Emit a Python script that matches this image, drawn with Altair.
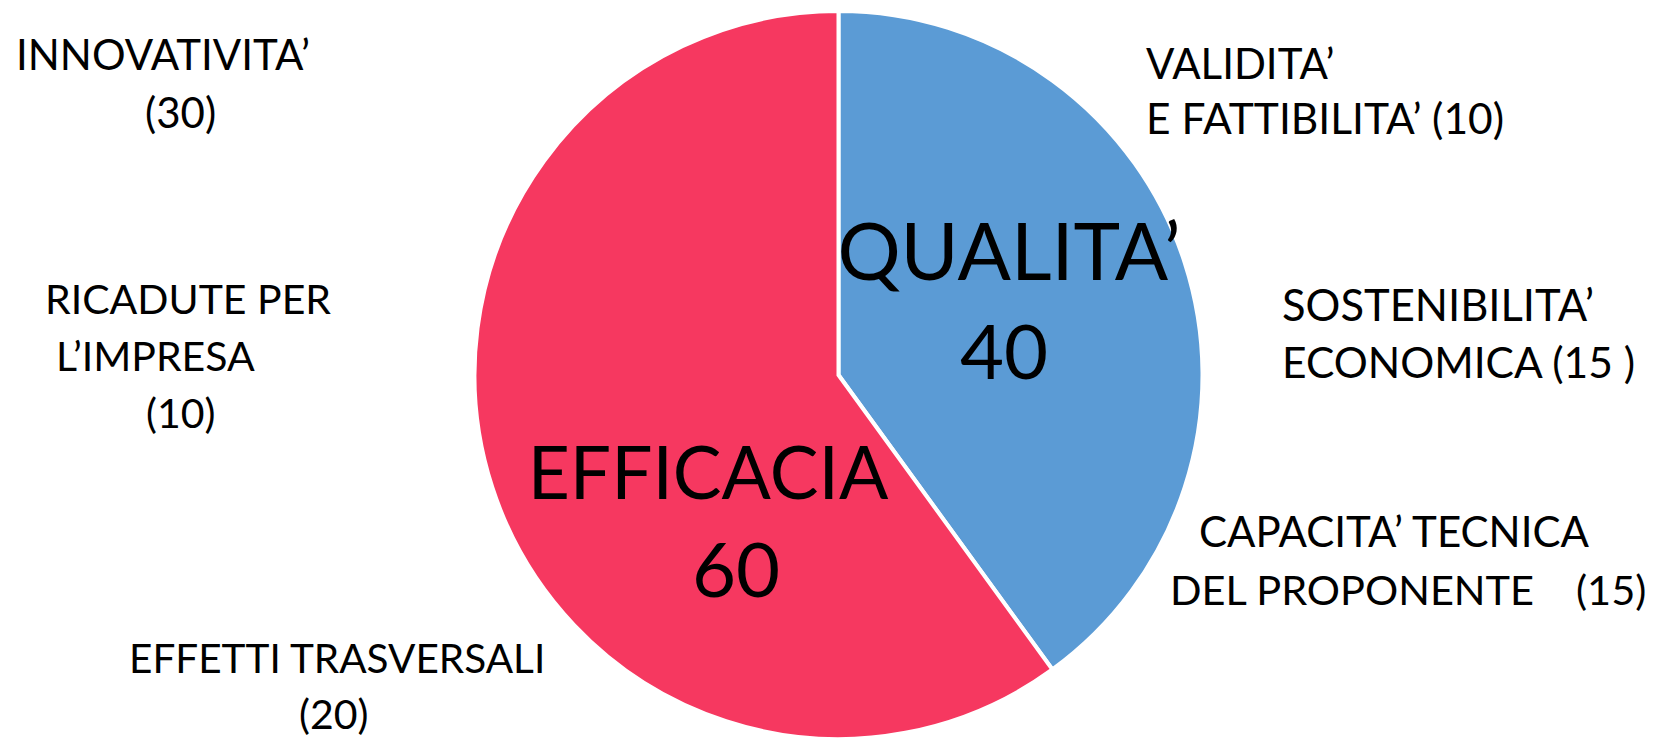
import altair as alt
import pandas as pd

# Pie data
categories = ["QUALITA’", "EFFICACIA"]
values = [40, 60]
colors = ["#5B9BD5", "#F63860"]

# Big slice labels (lines)
big_lines = ["QUALITA’", "40", "EFFICACIA", "60"]

# Outer criteria labels (one row per line)
small_lines = [
    "INNOVATIVITA’", "(30)",
    "RICADUTE PER", "L’IMPRESA", "(10)",
    "EFFETTI TRASVERSALI", "(20)",
    "VALIDITA’", "E FATTIBILITA’ (10)",
    "SOSTENIBILITA’", "ECONOMICA (15 )",
    "CAPACITA’ TECNICA", "DEL PROPONENTE\u2002\u00a0 (15)",
]

# --- layout (page pixels) ---
big_x = [1009, 1004, 708, 736]
big_y = [280, 379, 499, 597]
big_size = [79, 76, 73, 76]

small_x = [16, 145, 45, 56, 146, 129, 299, 1146, 1146, 1282, 1282, 1199, 1170]
small_y = [70, 128, 314, 371, 428, 673, 729, 79, 134, 321, 378, 547, 605]
small_size = [42, 42, 41, 41, 41, 40.5, 41, 42, 42.5, 43.5, 42.5, 42, 41.5]

W, H = 1641, 722
OFF = 8

pie_df = pd.DataFrame({"cat": categories, "val": values, "ord": [0, 1]})
big_df = pd.DataFrame({"t": big_lines, "x": [v - OFF for v in big_x],
                       "y": [v - OFF for v in big_y], "s": big_size})
small_df = pd.DataFrame({"t": small_lines, "x": [v - OFF for v in small_x],
                         "y": [v - OFF for v in small_y], "s": small_size})

xs = alt.Scale(domain=[0, W], nice=False, zero=False)
ys = alt.Scale(domain=[0, H], nice=False, zero=False, reverse=True)

pie = alt.Chart(pie_df).mark_arc(radius=364, stroke="white", strokeWidth=4).encode(
    theta=alt.Theta("val:Q", stack=True),
    order=alt.Order("ord:Q"),
    color=alt.Color("cat:N", scale=alt.Scale(domain=categories, range=colors), legend=None),
    x=alt.value(838.5 - OFF),
    y=alt.value(375 - OFF),
)

def text_layer(df, align):
    return alt.Chart(df).mark_text(
        font="Lato", align=align, baseline="alphabetic", color="black"
    ).encode(
        x=alt.X("x:Q", scale=xs, axis=None),
        y=alt.Y("y:Q", scale=ys, axis=None),
        size=alt.Size("s:Q", scale=None, legend=None),
        text="t:N",
    )

big = text_layer(big_df, "center")
small = text_layer(small_df, "left")

chart = alt.layer(pie, big, small).properties(
    width=W, height=H,
    padding={"left": 0, "top": 0, "right": 0, "bottom": 8},
    autosize=alt.AutoSizeParams(type="none"),
).configure_view(stroke=None)

chart.save("out.html", embed_options={"renderer": "svg", "actions": False})
